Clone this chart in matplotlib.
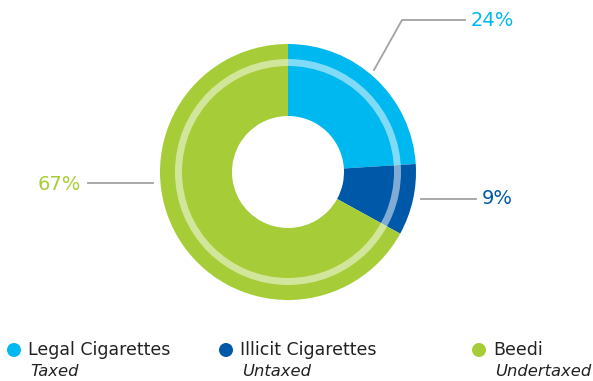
import matplotlib.pyplot as plt
from matplotlib.patches import Wedge, Circle

# data
categories = ['Legal Cigarettes', 'Illicit Cigarettes', 'Beedi']
subtitles = ['Taxed', 'Untaxed', 'Undertaxed']
shares = [24, 9, 67]
colors = ['#00B8F0', '#0058A9', '#A6CD38']

W, H = 593, 381
fig = plt.figure(figsize=(W / 100, H / 100), dpi=100)
ax = fig.add_axes([0, 0, 1, 1])

cx, cy = 288, H - 172
R, r_hole = 128, 56

ax.pie(shares, colors=colors, startangle=90, counterclock=False,
       center=(cx, cy), radius=R,
       wedgeprops=dict(width=R - r_hole, linewidth=0),
       frame=True)
ax.set_xlim(0, W)
ax.set_ylim(0, H)
ax.set_aspect('equal')
ax.axis('off')

# light inner ring
ax.add_patch(Wedge((cx, cy), 113, 0, 360, width=7, facecolor='white',
                   alpha=0.5, linewidth=0))

line_c = '#A3A3A3'
# leader lines + labels
ax.plot([374, 402, 465], [H - 70, H - 20, H - 20], color=line_c, lw=1.3)
ax.text(471, H - 20, f'{shares[0]}%', color=colors[0], fontsize=14,
        va='center', ha='left')
ax.plot([421, 476], [H - 199, H - 199], color=line_c, lw=1.3)
ax.text(482, H - 199, f'{shares[1]}%', color=colors[1], fontsize=14,
        va='center', ha='left')
ax.plot([88, 153], [H - 183, H - 183], color=line_c, lw=1.3)
ax.text(81, H - 184, f'{shares[2]}%', color=colors[2], fontsize=14,
        va='center', ha='right')

# legend
leg_x = [14, 226, 479]
for x, name, sub, c in zip(leg_x, categories, subtitles, colors):
    ax.add_patch(Circle((x, H - 350), 7, facecolor=c, linewidth=0))
    ax.text(x + 14, H - 350, name, fontsize=12.5, color='#222222',
            va='center', ha='left')
    ax.text(x + 16, H - 372, sub, fontsize=11.8, color='#222222',
            va='center', ha='left', style='italic')

fig.savefig('out.png', dpi=100)
